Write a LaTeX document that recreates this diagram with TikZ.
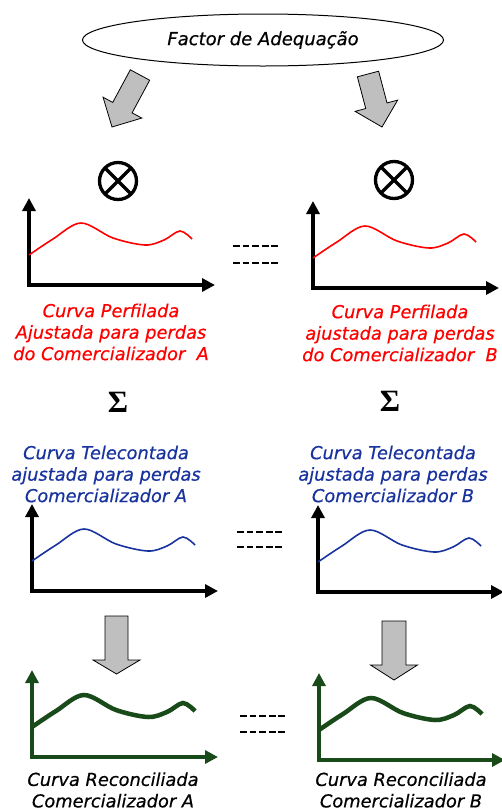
\documentclass[tikz,border=0pt]{standalone}
\usepackage{fontspec}
\setmainfont{DejaVu Sans}
\newfontfamily\fonterotulo{DejaVu Sans}[FakeBold=0.5]
\newfontfamily\fontesigma{Liberation Serif}
\usepackage{xcolor}
\definecolor{azul}{rgb}{0.1,0.2,0.62}
\definecolor{verde}{rgb}{0.1,0.29,0.1}
\definecolor{cinza}{rgb}{0.75,0.75,0.75}
\usetikzlibrary{arrows.meta, calc, positioning, shapes.geometric}

\tikzset{
  eixo/.style={line width=3.3pt, line join=miter,
    {Triangle[length=13pt,width=13pt]}-{Triangle[length=13pt,width=13pt]}},
  rotulo/.style={font=\fonterotulo\fontsize{17.8}{21.5}\selectfont\itshape, align=center, inner sep=0pt},
  produto/.style={circle, draw, line width=3.3pt, minimum size=37pt, inner sep=0pt,
    path picture={\draw[line width=3.3pt]
      (path picture bounding box.north west) -- (path picture bounding box.south east)
      (path picture bounding box.north east) -- (path picture bounding box.south west);}},
  somatorio/.style={font=\fontesigma\bfseries\fontsize{31}{31}\selectfont, inner sep=0pt},
  setacinza/.style={draw, fill=cinza, line width=0.8pt, line join=miter},
  reticencias/.style={line width=2.5pt, dash pattern=on 6.8pt off 2.8pt}
}

% eixos + curva: origem, cor dos eixos, estilo da curva
\newcommand{\grafico}[3]{%
  \begin{scope}[shift={#1}]
    \draw[eixo, #2] (0,87) -- (0,0) -- (186,0);
    \draw[#3] plot[smooth, tension=0.55] coordinates
      {(0,30) (24,46) (52,62) (84,47) (116,40) (135,45) (151,54) (163,46)};
  \end{scope}}

% seta larga: base, ponta, meia largura do corpo, meia largura da cabeca, comprimento da cabeca
\newcommand{\setalarga}[5]{%
  \coordinate (cab) at ($(#2)!#5!(#1)$);
  \draw[setacinza] ($(#1)!#3!90:(#2)$) -- ($(cab)!#3!90:(#2)$) -- ($(cab)!#4!90:(#2)$)
    -- (#2) -- ($(cab)!#4!-90:(#2)$) -- ($(cab)!#3!-90:(#2)$) -- ($(#1)!#3!-90:(#2)$) -- cycle;}

\begin{document}
\begin{tikzpicture}[x=1pt, y=1pt]
    \useasboundingbox (0,0) rectangle (502,-812);

    % topo
    \node[ellipse, draw, line width=1pt, minimum width=361pt, minimum height=52pt,
          font=\fonterotulo\fontsize{18}{20}\selectfont\itshape] (factor) at (263,-40) {Factor de Adequação};

    \node[produto] (prodA) at (118,-181) {};
    \node[produto] (prodB) at (394,-180) {};

    \coordinate (baseA) at (140,-75);
    \coordinate (pontaA) at (112,-127);
    \coordinate (baseB) at (368,-74);
    \coordinate (pontaB) at (382,-127);
    \setalarga{baseA}{pontaA}{11pt}{22pt}{22pt}
    \setalarga{baseB}{pontaB}{11pt}{22pt}{22pt}

    % curvas perfiladas
    \grafico{(29,-285)}{black}{red, line width=1.6pt}
    \grafico{(313,-288)}{black}{red, line width=1.6pt}
    \draw[reticencias] (233,-246) -- (279,-246);
    \draw[reticencias] (233,-263) -- (279,-263);

    \node[rotulo, text=red] (perfA) at (111,-332)
        {Curva Perfilada\\Ajustada para perdas\\do Comercializador\ \ A};
    \node[rotulo, text=red] (perfB) at (400,-333)
        {Curva Perfilada\\ajustada para perdas\\do Comercializador\ \ B};

    \node[somatorio] (somaA) at (118,-402) {Σ};
    \node[somatorio] (somaB) at (390,-401) {Σ};

    % curvas telecontadas
    \node[rotulo, text=azul] (teleA) at (106,-474)
        {Curva Telecontada\\ajustada para perdas\\Comercializador A};
    \node[rotulo, text=azul] (teleB) at (393,-474)
        {Curva Telecontada\\ajustada para perdas\\Comercializador B};

    \grafico{(32,-591)}{black}{azul, line width=1.6pt}
    \grafico{(318,-592)}{black}{azul, line width=1.6pt}
    \draw[reticencias] (237,-532) -- (282,-532);
    \draw[reticencias] (237,-547) -- (282,-547);

    \coordinate (baseC) at (116.5,-616);
    \coordinate (pontaC) at (116.5,-674);
    \coordinate (baseD) at (394,-621);
    \coordinate (pontaD) at (394,-680);
    \setalarga{baseC}{pontaC}{11.5pt}{23.5pt}{14pt}
    \setalarga{baseD}{pontaD}{12pt}{23.5pt}{15pt}

    % curvas reconciliadas
    \grafico{(32,-757)}{verde}{verde, line width=4.5pt}
    \grafico{(319,-760)}{verde}{verde, line width=4.5pt}
    \draw[reticencias] (240,-716) -- (285,-716);
    \draw[reticencias] (240,-732) -- (285,-732);

    \node[rotulo] (recA) at (113,-790) {Curva Reconciliada\\Comercializador A};
    \node[rotulo] (recB) at (401,-790) {Curva Reconciliada\\Comercializador B};
\end{tikzpicture}
\end{document}
